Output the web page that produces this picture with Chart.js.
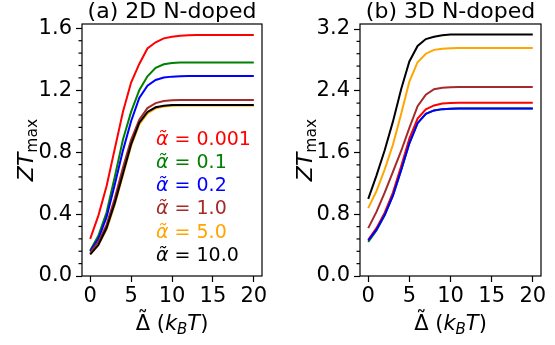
<!DOCTYPE html>
<html>
<head>
<meta charset="utf-8">
<script src="https://cdn.jsdelivr.net/npm/chart.js@4/dist/chart.umd.min.js"></script>
<style>
  html, body { margin: 0; padding: 0; background: #fff; }
  #wrap { position: relative; width: 555px; height: 345px; overflow: hidden; }
  .panel { position: absolute; top: 0; height: 345px; }
  #pa { left: 0; width: 280px; }
  #pb { left: 280px; width: 275px; }
</style>
</head>
<body>
<div id="wrap">
  <div class="panel" id="pa"><canvas id="ca" width="280" height="345"></canvas></div>
  <div class="panel" id="pb"><canvas id="cb" width="275" height="345"></canvas></div>
</div>
<script>
// Reduced band gap (in k_B T) at which ZT_max was evaluated
const gapSteps = [0, 1, 2, 3, 4, 5, 6, 7, 8, 9, 10, 11, 12, 13, 14, 15, 16, 17, 18, 19, 20];

// Scattering ratio alpha~ for each curve, and the colour used for it
const alphaLabels = ['0.001', '0.1', '0.2', '1.0', '5.0', '10.0'];
const seriesColors = ['#ff0000', '#008000', '#0000ff', '#a52a2a', '#ffa500', '#000000'];

// (a) 2D N-doped : ZT_max vs gap
const zt2D_a0001 = [0.24, 0.39, 0.58, 0.82, 1.06, 1.25, 1.37, 1.47, 1.51, 1.535, 1.546, 1.552, 1.555, 1.557, 1.557, 1.557, 1.557, 1.557, 1.557, 1.557, 1.557];
const zt2D_a01   = [0.165, 0.26, 0.41, 0.64, 0.88, 1.06, 1.20, 1.29, 1.345, 1.368, 1.376, 1.379, 1.38, 1.38, 1.38, 1.38, 1.38, 1.38, 1.38, 1.38, 1.38];
const zt2D_a02   = [0.16, 0.24, 0.38, 0.59, 0.81, 1.00, 1.15, 1.23, 1.266, 1.282, 1.288, 1.291, 1.292, 1.292, 1.292, 1.292, 1.292, 1.292, 1.292, 1.292, 1.292];
const zt2D_a1    = [0.15, 0.22, 0.33, 0.50, 0.70, 0.88, 1.01, 1.085, 1.117, 1.13, 1.135, 1.137, 1.137, 1.137, 1.137, 1.137, 1.137, 1.137, 1.137, 1.137, 1.137];
const zt2D_a5    = [0.14, 0.20, 0.30, 0.46, 0.65, 0.84, 0.98, 1.05, 1.083, 1.095, 1.10, 1.102, 1.102, 1.102, 1.102, 1.102, 1.102, 1.102, 1.102, 1.102, 1.102];
const zt2D_a10   = [0.14, 0.20, 0.31, 0.47, 0.66, 0.85, 0.99, 1.06, 1.09, 1.10, 1.104, 1.105, 1.105, 1.105, 1.105, 1.105, 1.105, 1.105, 1.105, 1.105, 1.105];

// (b) 3D N-doped : ZT_max vs gap
const zt3D_a0001 = [0.47, 0.62, 0.82, 1.08, 1.42, 1.78, 2.04, 2.16, 2.21, 2.235, 2.242, 2.245, 2.245, 2.245, 2.245, 2.245, 2.245, 2.245, 2.245, 2.245, 2.245];
const zt3D_a01   = [0.44, 0.59, 0.79, 1.04, 1.37, 1.72, 1.98, 2.10, 2.145, 2.162, 2.168, 2.17, 2.17, 2.17, 2.17, 2.17, 2.17, 2.17, 2.17, 2.17, 2.17];
const zt3D_a02   = [0.46, 0.60, 0.79, 1.04, 1.37, 1.72, 1.98, 2.10, 2.145, 2.162, 2.168, 2.17, 2.17, 2.17, 2.17, 2.17, 2.17, 2.17, 2.17, 2.17, 2.17];
const zt3D_a1    = [0.62, 0.83, 1.08, 1.35, 1.62, 1.92, 2.20, 2.35, 2.42, 2.44, 2.447, 2.448, 2.448, 2.448, 2.448, 2.448, 2.448, 2.448, 2.448, 2.448, 2.448];
const zt3D_a5    = [0.88, 1.10, 1.38, 1.70, 2.10, 2.52, 2.77, 2.88, 2.93, 2.945, 2.95, 2.953, 2.953, 2.953, 2.953, 2.953, 2.953, 2.953, 2.953, 2.953, 2.953];
const zt3D_a10   = [1.00, 1.30, 1.63, 2.00, 2.42, 2.78, 2.98, 3.07, 3.10, 3.12, 3.128, 3.13, 3.13, 3.13, 3.13, 3.13, 3.13, 3.13, 3.13, 3.13, 3.13];

// Axis ticks
const xTicks = [0, 5, 10, 15, 20];
const xLimits = [-1, 21];
const yTicks2D = [0.0, 0.4, 0.8, 1.2, 1.6];
const yMinor2D = [0.08, 0.16, 0.24, 0.32, 0.48, 0.56, 0.64, 0.72, 0.88, 0.96, 1.04, 1.12, 1.28, 1.36, 1.44, 1.52];
const yLimits2D = [0, 1.628];
const yTicks3D = [0.0, 0.8, 1.6, 2.4, 3.2];
const yMinor3D = [0.16, 0.32, 0.48, 0.64, 0.96, 1.12, 1.28, 1.44, 1.76, 1.92, 2.08, 2.24, 2.56, 2.72, 2.88, 3.04];
const yLimits3D = [0, 3.265];

const FONT = '"DejaVu Sans"';
Chart.defaults.font.family = FONT;

// Draw a run of differently styled text pieces, horizontally centred or left aligned.
// A run with `accent` gets that mark centred above it.
function drawRuns(ctx, runs, x, y, align) {
  let total = 0;
  runs.forEach(r => { ctx.font = r.font; r.w = ctx.measureText(r.t).width; total += r.w; });
  let cx = align === 'center' ? x - total / 2 : x;
  ctx.textAlign = 'left';
  ctx.textBaseline = 'alphabetic';
  runs.forEach(r => {
    ctx.font = r.font;
    ctx.fillStyle = r.color || '#000';
    ctx.fillText(r.t, cx, y + (r.dy || 0));
    if (r.accent) {
      ctx.textAlign = 'center';
      ctx.fillText(r.accent, cx + r.w / 2, y + r.accentDy);
      ctx.textAlign = 'left';
    }
    cx += r.w;
  });
}

// Frame, minor ticks, panel title, axis titles and in-plot labels
const panelDecor = {
  id: 'panelDecor',
  afterDraw(chart, args, opts) {
    const ctx = chart.ctx, a = chart.chartArea, ys = chart.scales.y;
    ctx.save();
    ctx.strokeStyle = '#000';
    ctx.lineWidth = 1.2;
    ctx.strokeRect(a.left, a.top, a.right - a.left, a.bottom - a.top);
    opts.minor.forEach(v => {
      const p = ys.getPixelForValue(v);
      ctx.beginPath();
      ctx.moveTo(a.left - 3.5, p);
      ctx.lineTo(a.left, p);
      ctx.stroke();
    });

    ctx.fillStyle = '#000';
    ctx.font = '22px ' + FONT;
    ctx.textAlign = 'center';
    ctx.textBaseline = 'alphabetic';
    ctx.fillText(opts.title, (a.left + a.right) / 2, 18);

    // y axis title: ZT_max
    ctx.save();
    ctx.translate(opts.yTitleX, (a.top + a.bottom) / 2);
    ctx.rotate(-Math.PI / 2);
    drawRuns(ctx, [
      { t: 'ZT', font: 'italic 22px ' + FONT },
      { t: 'max', font: '15.5px ' + FONT, dy: 4 }
    ], 0, 0, 'center');
    ctx.restore();

    // x axis title: Δ̃ (k_B T)
    drawRuns(ctx, [
      { t: 'Δ', font: '21px ' + FONT, accent: '˜', accentDy: -4 },
      { t: ' (', font: '21px ' + FONT },
      { t: 'k', font: 'italic 21px ' + FONT },
      { t: 'B', font: 'italic 15px ' + FONT, dy: 4 },
      { t: 'T', font: 'italic 21px ' + FONT },
      { t: ')', font: '21px ' + FONT }
    ], (a.left + a.right) / 2, 330, 'center');

    if (opts.labels) {
      alphaLabels.forEach((lab, i) => {
        drawRuns(ctx, [
          { t: 'α̃', font: 'italic 19px ' + FONT, color: seriesColors[i] },
          { t: ' = ' + lab, font: '19px ' + FONT, color: seriesColors[i] }
        ], opts.labelX, opts.labelY0 + opts.labelDY * i, 'left');
      });
    }
    ctx.restore();
  }
};

function makePanel(canvasId, series, cfg) {
  return new Chart(document.getElementById(canvasId), {
    type: 'line',
    data: {
      // later curves are painted over earlier ones
      datasets: series.map((ys, i) => ({
        data: gapSteps.map((g, j) => ({ x: g, y: ys[j] })),
        borderColor: seriesColors[i],
        borderWidth: 2,
        pointRadius: 0,
        tension: 0,
        fill: false,
        order: series.length - i
      }))
    },
    options: {
      responsive: false,
      animation: false,
      devicePixelRatio: 1,
      layout: { padding: { left: 0, top: 24, right: cfg.padRight, bottom: 0 } },
      plugins: {
        legend: { display: false },
        tooltip: { enabled: false },
        title: { display: false },
        panelDecor: cfg.decor
      },
      scales: {
        x: {
          type: 'linear',
          min: xLimits[0],
          max: xLimits[1],
          afterBuildTicks: s => { s.ticks = xTicks.map(v => ({ value: v })); },
          afterFit: s => { s.height = 69; },
          grid: { display: true, drawOnChartArea: false, drawTicks: true, tickLength: 6, tickColor: '#000', tickWidth: 1.2 },
          border: { display: false },
          ticks: { color: '#000', font: { size: 21 }, padding: 2, maxRotation: 0, callback: v => String(v) }
        },
        y: {
          type: 'linear',
          min: cfg.yLimits[0],
          max: cfg.yLimits[1],
          afterBuildTicks: s => { s.ticks = cfg.yTicks.map(v => ({ value: v })); },
          afterFit: s => { s.width = cfg.yWidth; },
          grid: { display: true, drawOnChartArea: false, drawTicks: true, tickLength: 6, tickColor: '#000', tickWidth: 1.2 },
          border: { display: false },
          ticks: { color: '#000', font: { size: 21 }, padding: 4, callback: v => v.toFixed(1) }
        }
      }
    },
    plugins: [panelDecor]
  });
}

makePanel('ca', [zt2D_a0001, zt2D_a01, zt2D_a02, zt2D_a1, zt2D_a5, zt2D_a10], {
  padRight: 18, yWidth: 82, yLimits: yLimits2D, yTicks: yTicks2D,
  decor: { title: '(a) 2D N-doped', minor: yMinor2D, yTitleX: 33, labels: true, labelX: 156, labelY0: 145, labelDY: 23.15 }
});

makePanel('cb', [zt3D_a0001, zt3D_a01, zt3D_a02, zt3D_a1, zt3D_a5, zt3D_a10], {
  padRight: 14, yWidth: 80, yLimits: yLimits3D, yTicks: yTicks3D,
  decor: { title: '(b) 3D N-doped', minor: yMinor3D, yTitleX: 32, labels: false }
});
</script>
</body>
</html>
